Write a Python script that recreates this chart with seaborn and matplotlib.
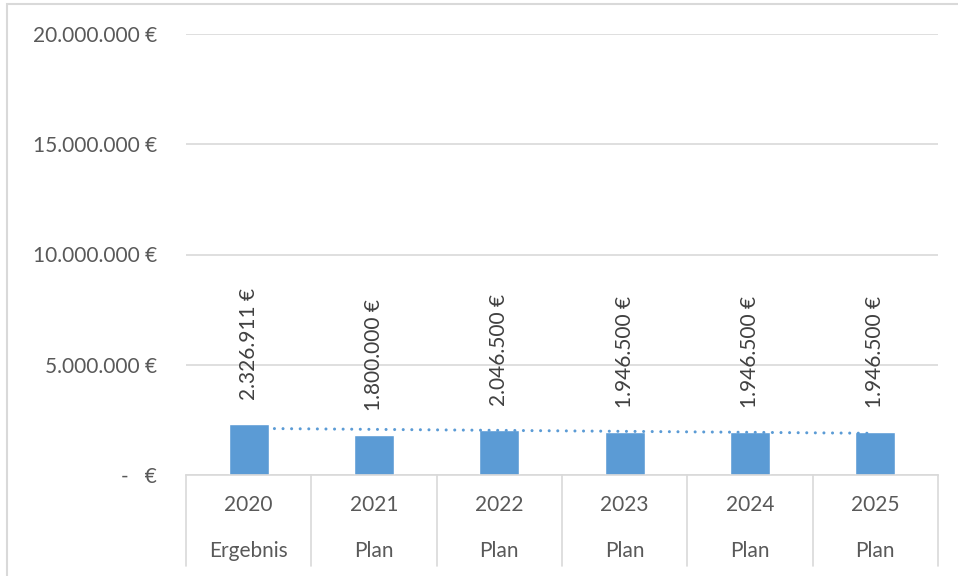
import matplotlib
matplotlib.use("Agg")
import matplotlib.pyplot as plt
import matplotlib.transforms as mtransforms
from matplotlib.patches import Rectangle
import numpy as np
import pandas as pd
import seaborn as sns

years = ["2020", "2021", "2022", "2023", "2024", "2025"]
kinds = ["Ergebnis", "Plan", "Plan", "Plan", "Plan", "Plan"]
values = [2326911, 1800000, 2046500, 1946500, 1946500, 1946500]
yticks = [0, 5000000, 10000000, 15000000, 20000000]

BAR = "#5B9BD5"
GRID = "#D9D9D9"
TXT = "#595959"
LBL = "#404040"
FS = 15

sns.set_theme(style="white")
plt.rcParams["font.family"] = ["Lato", "DejaVu Sans"]

W, H = 958, 576
fig = plt.figure(figsize=(W / 100, H / 100), dpi=100)
ax = fig.add_axes([186 / W, (H - 475) / H, (938 - 186) / W, (475 - 34) / H])

df = pd.DataFrame({"year": years, "value": values})
sns.barplot(data=df, x="year", y="value", color=BAR, width=0.32, saturation=1,
            ax=ax, zorder=2)

# linear trendline (Excel style)
xs = np.arange(len(values))
k, d = np.polyfit(xs, values, 1)
ax.plot(xs, k * xs + d, linestyle=(0, (0.01, 2.8)), color=BAR, lw=2.2,
        dash_capstyle="round", zorder=3)

ax.set_xlim(-0.5, len(years) - 0.5)
ax.set_ylim(0, 20000000)


def fmt(v):
    if v == 0:
        return "-   €"
    return f"{v:,.0f}".replace(",", ".") + " €"


ax.set_yticks(yticks)
ax.set_yticklabels([fmt(v) for v in yticks], fontsize=FS, color=TXT)
ax.tick_params(axis="y", length=0, pad=21)
ax.yaxis.grid(True, color=GRID, lw=1.2, zorder=0)
ax.set_axisbelow(True)
for s in ["top", "right", "left"]:
    ax.spines[s].set_visible(False)
ax.spines["bottom"].set_color(GRID)
ax.spines["bottom"].set_linewidth(1.2)
ax.set_xlabel("")
ax.set_ylabel("")
ax.set_xticks([])

# data labels
for i, v in enumerate(values):
    ax.annotate(fmt(v), (i, v), xytext=(0, 24), textcoords="offset pixels",
                rotation=90, ha="center", va="bottom", fontsize=FS, color=LBL)

# multi-level category axis
tr = mtransforms.blended_transform_factory(ax.transData, ax.transAxes)
axh = 475 - 34
for b in np.arange(-0.5, len(years), 1.0):
    ax.plot([b, b], [0, -(566 - 475) / axh], transform=tr, color=GRID, lw=1.2,
            clip_on=False)
for i, (y, kd) in enumerate(zip(years, kinds)):
    ax.text(i, -(505 - 475) / axh, y, transform=tr, ha="center", va="center",
            fontsize=FS, color=TXT)
    ax.text(i, -(551 - 475) / axh, kd, transform=tr, ha="center", va="center",
            fontsize=FS, color=TXT)

# chart border
fig.patches.append(Rectangle((7 / W, -0.1), 1.2, (H - 4) / H + 0.1,
                             transform=fig.transFigure, fill=False,
                             edgecolor=GRID, lw=1.5))

fig.savefig("out.png", dpi=100)
